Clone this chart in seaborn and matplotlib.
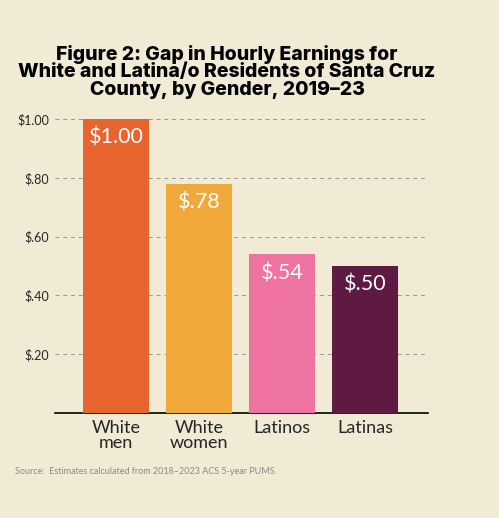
import matplotlib
matplotlib.use("Agg")
import matplotlib.pyplot as plt
import seaborn as sns
import pandas as pd

categories = ["White\nmen", "White\nwomen", "Latinos", "Latinas"]
values = [1.00, 0.78, 0.54, 0.50]
value_labels = ["$1.00", "$.78", "$.54", "$.50"]
colors = ["#e8642f", "#f0a83a", "#ef73a0", "#5e1a43"]
yticks = [0.2, 0.4, 0.6, 0.8, 1.0]
ytick_labels = ["$.20", "$.40", "$.60", "$.80", "$1.00"]

bg = "#f1ead5"
sns.set_style("white")
plt.rcParams['font.family'] = ['Lato', 'DejaVu Sans']

fig = plt.figure(figsize=(4.99, 5.18), dpi=100, facecolor=bg)
ax = fig.add_axes([55/499, 1-413/518, (428-55)/499, (413-119)/518])
ax.set_facecolor(bg)
df = pd.DataFrame({"cat": categories, "val": values})
sns.barplot(data=df, x="cat", y="val", hue="cat", palette=colors, width=0.8,
            legend=False, ax=ax, zorder=3, saturation=1, linewidth=0, edgecolor="none")
ax.set_ylim(0, 1.0)
ax.set_xlim(-0.74, 3.76)
ax.set_yticks(yticks)
ax.set_yticklabels(ytick_labels, fontsize=9)
ax.yaxis.grid(True, linestyle=(0, (4, 4)), color="#999999", linewidth=0.7, zorder=0)
ax.tick_params(axis="y", length=0, pad=4)
ax.tick_params(axis="x", length=0, labelsize=13, pad=5)
ax.set_xlabel("")
ax.set_ylabel("")
for s in ["left", "right", "top"]:
    ax.spines[s].set_visible(False)
ax.spines["bottom"].set_color("black")
ax.spines["bottom"].set_linewidth(1.2)
for lbl in ax.get_xticklabels():
    lbl.set_linespacing(0.95)
for i, (v, t) in enumerate(zip(values, value_labels)):
    ax.text(i, v - 0.03, t, ha="center", va="top", color="white", fontsize=15.5, zorder=4)

fig.text(0.455, 1-72/518, "Figure 2: Gap in Hourly Earnings for\nWhite and Latina/o Residents of Santa Cruz\nCounty, by Gender, 2019\u201323",
         ha="center", va="center", fontsize=14, fontweight="heavy", family=["Inter", "DejaVu Sans"],
         linespacing=0.98, color="black")
fig.text(15/499, 1-471/518, "Source:  Estimates calculated from 2018\u20132023 ACS 5-year PUMS.",
         ha="left", va="center", fontsize=6.5, color="#8a8a8a")
fig.savefig("out.png", dpi=100, facecolor=bg)
